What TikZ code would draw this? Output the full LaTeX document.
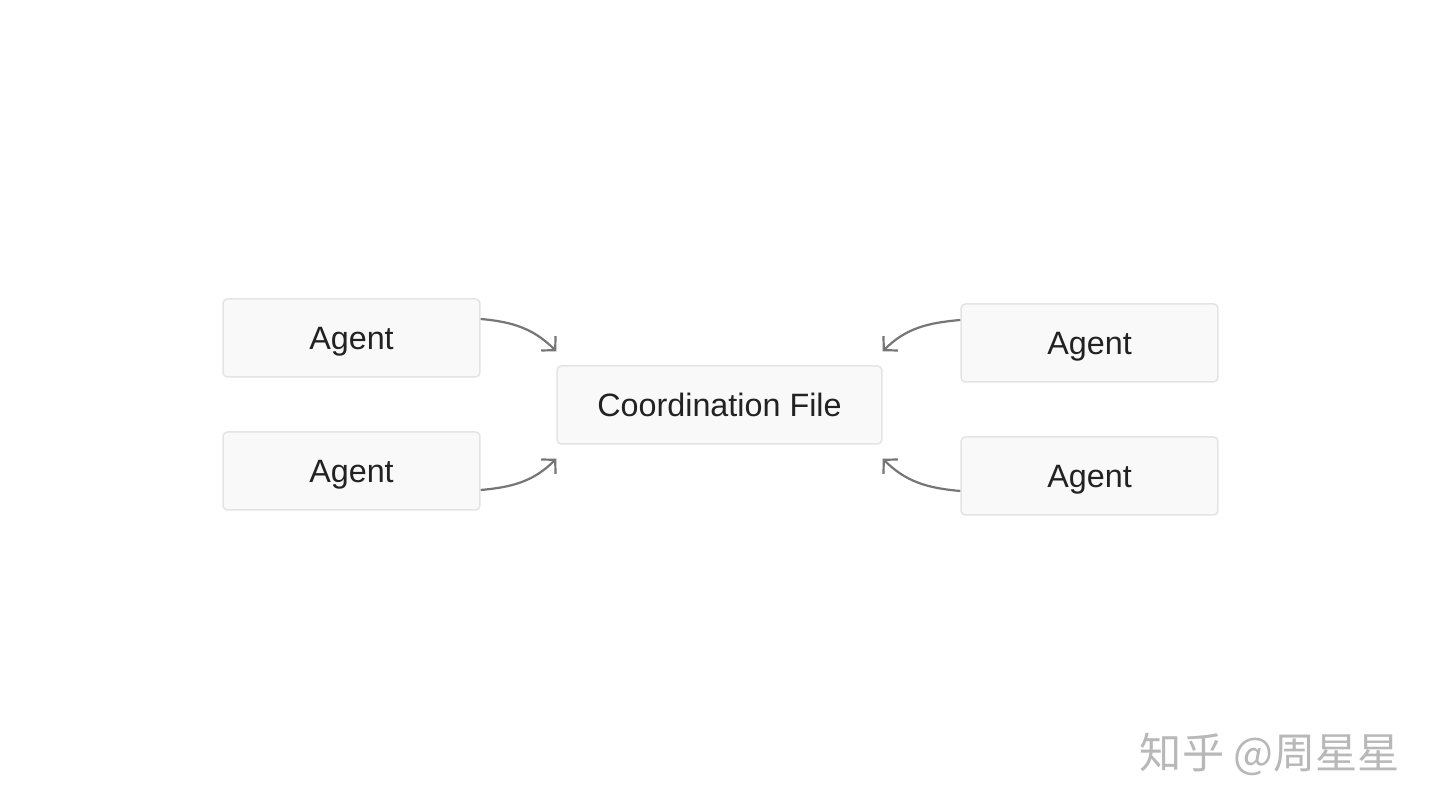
\documentclass[tikz,border=0pt]{standalone}
\usepackage{fontspec}
\setmainfont{Liberation Sans}
\newfontfamily\cjk{Noto Sans CJK SC}
\usetikzlibrary{arrows.meta}

\definecolor{boxfill}{HTML}{F9F9F9}
\definecolor{boxline}{HTML}{E4E4E4}
\definecolor{arrowgray}{HTML}{767676}
\definecolor{textdark}{HTML}{222222}

\tikzset{
  agentbox/.style={draw=boxline, fill=boxfill, line width=0.85pt, rounded corners=2.5pt,
    minimum width=5.14cm, minimum height=1.56cm, text=textdark,
    text height=17pt, text depth=4pt,
    font=\fontsize{18.4}{22}\selectfont},
  filebox/.style={agentbox, minimum width=6.5cm},
  link/.style={draw=arrowgray, line width=1.25pt, -{Straight Barb[length=5.5pt,width=11.5pt]}}
}

\begin{document}
\begin{tikzpicture}[x=0.02cm,y=0.02cm]
\useasboundingbox[fill=white] (0,0) rectangle (1440,810);

\node[filebox] (file) at (719.5,405) {Coordination File};
\node[agentbox] (agentA) at (351.5,472) {Agent};
\node[agentbox] (agentB) at (351.5,339) {Agent};
\node[agentbox] (agentC) at (1089.5,467) {Agent};
\node[agentbox] (agentD) at (1089.5,334) {Agent};

% agents point at the file
\draw[link] ([yshift=0.38cm]agentA.east) to[out=-5,in=135] ([yshift=0.28cm]file.north west);
\draw[link] ([yshift=-0.38cm]agentB.east) to[out=5,in=-135] ([yshift=-0.28cm]file.south west);
\draw[link] ([yshift=0.46cm]agentC.west) to[out=185,in=45] ([yshift=0.28cm]file.north east);
\draw[link] ([yshift=-0.3cm]agentD.west) to[out=175,in=-45] ([yshift=-0.28cm]file.south east);

\node[text=black!28, font=\cjk\fontsize{24}{28}\selectfont] (mark) at (1270,56) {知乎 @周星星};
\end{tikzpicture}
\end{document}
